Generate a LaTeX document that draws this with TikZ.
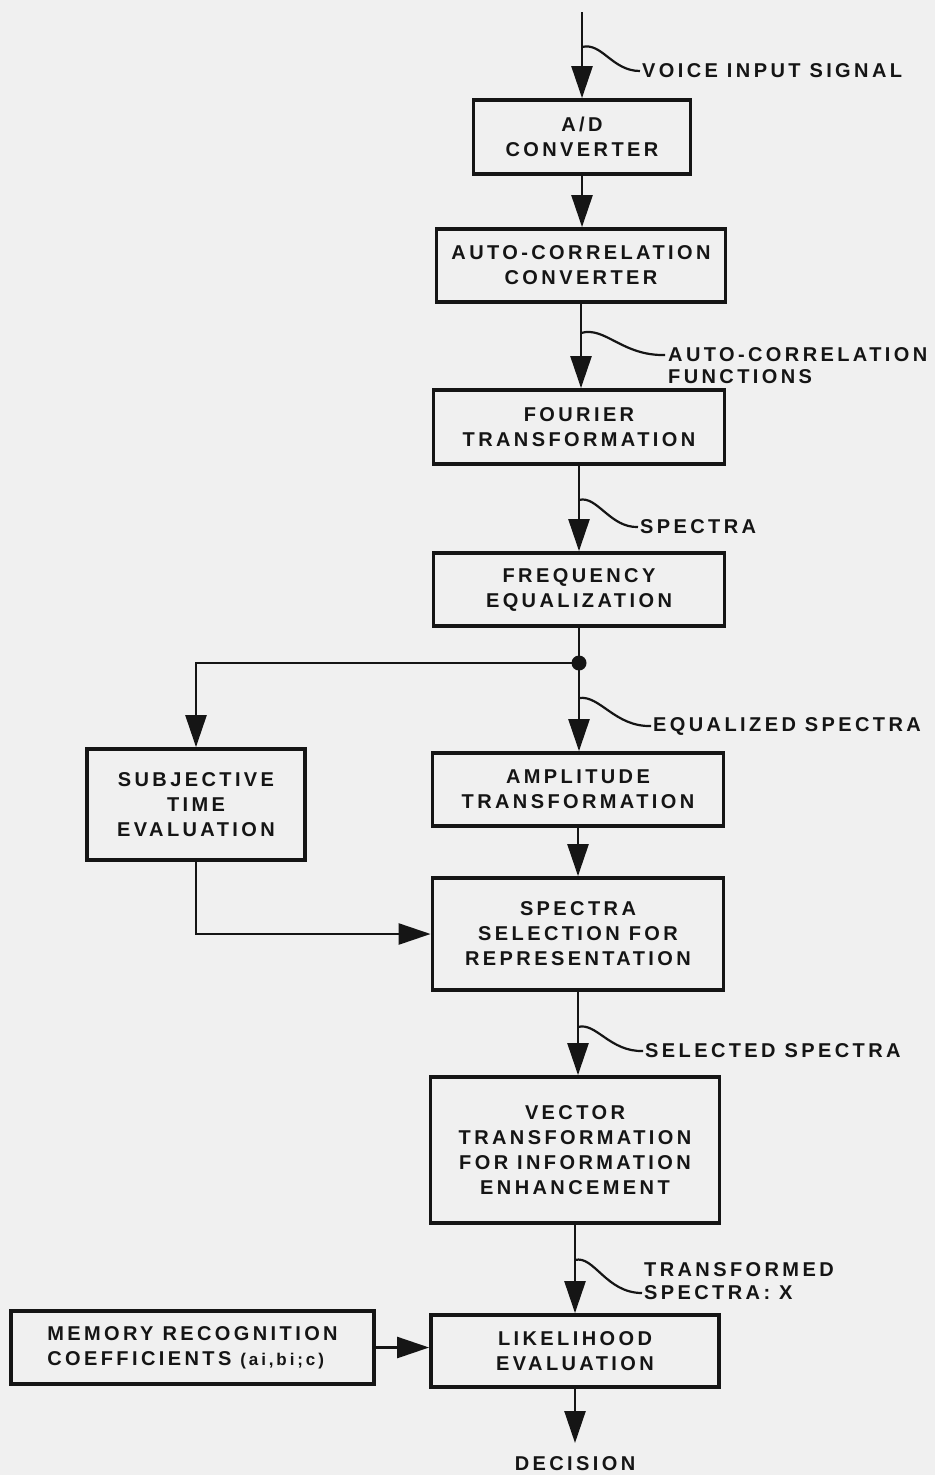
\documentclass[tikz,border=0pt]{standalone}
\usepackage{fontspec}
\usetikzlibrary{arrows.meta}
\newfontfamily\labfont[LetterSpace=17]{Liberation Sans}
\definecolor{bg}{HTML}{F0F0F0}
\definecolor{ink}{HTML}{151515}
\begin{document}
\begin{tikzpicture}[x=1pt,y=-1pt,
  txt/.style={font=\labfont\bfseries\fontsize{20}{25}\selectfont, text=ink},
  box/.style={txt, draw=ink, line width=3.8pt, inner sep=0pt, align=center},
  conn/.style={draw=ink, line width=2.5pt},
  arr/.style={conn, -{Triangle[length=32pt,width=21pt]}},
  lbl/.style={txt, anchor=west, inner sep=0pt},
  wig/.style={draw=ink, line width=2.2pt}]
\path[fill=bg] (0,0) rectangle (935,1475);
% boxes
\node[box, minimum width=217pt, minimum height=74pt] (ad) at (582,137) {A/D\\CONVERTER};
\node[box, minimum width=289pt, minimum height=73pt] (acc) at (581,265.5) {AUTO-CORRELATION\\CONVERTER};
\node[box, minimum width=291pt, minimum height=74pt] (four) at (579,427) {FOURIER\\TRANSFORMATION};
\node[box, minimum width=291pt, minimum height=73pt] (freq) at (579,589.5) {FREQUENCY\\EQUALIZATION};
\node[circle, fill=ink, inner sep=0pt, minimum size=15pt] (dot) at (579,663) {};
\node[box, minimum width=218pt, minimum height=111pt] (subj) at (196,804.5) {SUBJECTIVE\\TIME\\EVALUATION};
\node[box, minimum width=291pt, minimum height=73pt] (amp) at (578,789.5) {AMPLITUDE\\TRANSFORMATION};
\node[box, minimum width=291pt, minimum height=112pt] (sel) at (578,934) {SPECTRA\\SELECTION FOR\\REPRESENTATION};
\node[box, minimum width=289pt, minimum height=146pt] (vec) at (575,1150) {VECTOR\\TRANSFORMATION\\FOR INFORMATION\\ENHANCEMENT};
\node[box, minimum width=288pt, minimum height=72pt] (like) at (575,1351) {LIKELIHOOD\\EVALUATION};
\node[box, minimum width=363pt, minimum height=73pt, align=left] (mem) at (192.5,1347.5) {MEMORY RECOGNITION\\COEFFICIENTS {\fontsize{17}{17}\selectfont(ai,bi;c)}};
\node[txt, anchor=north, inner sep=0pt] (dec) at (575,1456) {DECISION};
% labels
\node[lbl] (voice) at (642,71) {VOICE INPUT SIGNAL};
\node[lbl] (acf1) at (668,355) {AUTO-CORRELATION};
\node[lbl] (acf2) at (668,377) {FUNCTIONS};
\node[lbl] (spec) at (640,527) {SPECTRA};
\node[lbl] (eqs) at (653,726) {EQUALIZED SPECTRA};
\node[lbl] (sels) at (645,1051) {SELECTED SPECTRA};
\node[lbl] (ts1) at (644,1270) {TRANSFORMED};
\node[lbl] (ts2) at (644,1293) {SPECTRA: X};
% connectors
\coordinate (in) at (582,12);
\draw[arr] (in) -- (in |- ad.north);
\draw[arr] (ad.south) -- (ad.south |- acc.north);
\draw[arr] (acc.south) -- (acc.south |- four.north);
\draw[arr] (four.south) -- (four.south |- freq.north);
\draw[conn] (freq.south) -- (dot.center);
\draw[arr] (dot.center) -- (dot.center |- amp.north);
\draw[arr] (dot.center) -| (subj.north);
\draw[arr] (amp.south) -- (amp.south |- sel.north);
\draw[arr] (subj.south) |- (sel.west);
\draw[arr] (sel.south) -- (sel.south |- vec.north);
\draw[arr] (vec.south) -- (vec.south |- like.north);
\draw[arr] (mem.east) -- (mem.east -| like.west);
\draw[arr, shorten >=13pt] (like.south) -- (like.south |- dec.north);
% wiggles
\coordinate (w1) at (582,47);
\coordinate (w2) at (581,333);
\coordinate (w3) at (579,500);
\coordinate (w4) at (579,698);
\coordinate (w5) at (578,1027);
\coordinate (w6) at (575,1260);
\draw[wig] (w1) .. controls (602,42) and (612,71) .. ([xshift=-2pt]voice.west);
\draw[wig] (w2) .. controls (605,326) and (622,356) .. ([xshift=-3pt]acf1.west);
\draw[wig] (w3) .. controls (597,495) and (610,528) .. ([xshift=-2pt]spec.west);
\draw[wig] (w4) .. controls (600,695) and (615,727) .. ([xshift=-2pt]eqs.west);
\draw[wig] (w5) .. controls (596,1022) and (610,1052) .. ([xshift=-2pt]sels.west);
\draw[wig] (w6) .. controls (594,1255) and (606,1293) .. ([xshift=-2pt]ts2.west);
\end{tikzpicture}
\end{document}
